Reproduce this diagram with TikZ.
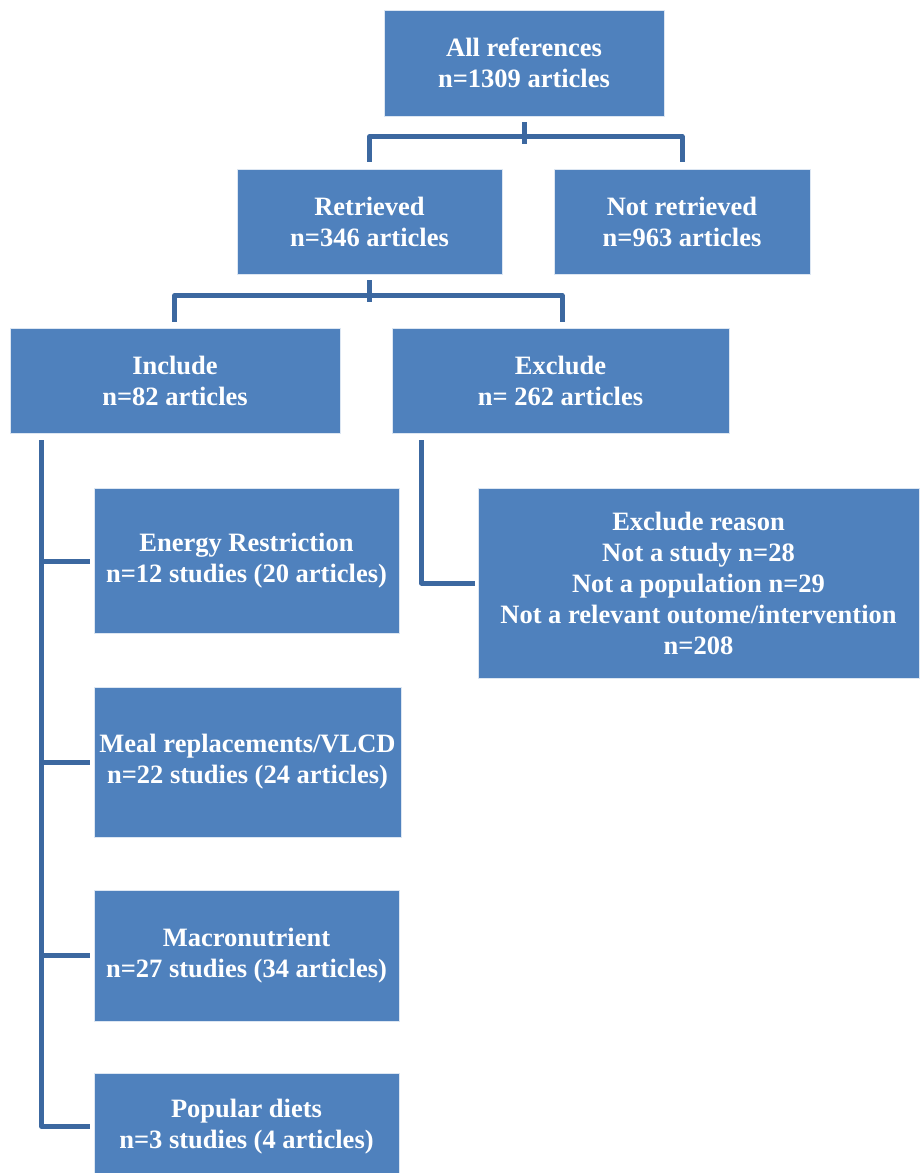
\documentclass[tikz,border=0pt]{standalone}
\usepackage{fontspec}
\setmainfont{Liberation Serif}
\usepackage{tikz}
\definecolor{boxblue}{RGB}{79,129,189}
\definecolor{lineblue}{RGB}{60,104,160}

\begin{document}
\begin{tikzpicture}[x=1pt,y=-1pt,
  box/.style={fill=boxblue,draw=white!80!boxblue,line width=0.8pt,text=white,align=center,inner sep=0pt,
    font=\bfseries\fontsize{26.5}{31}\selectfont},
  link/.style={draw=lineblue,line width=5pt,line join=round}]
\useasboundingbox (0,0) rectangle (919,1173);
\node[box,minimum width=280pt,minimum height=106pt] (allref) at (524,63) {All references\\n=1309 articles};
\node[box,minimum width=265pt,minimum height=105pt] (retr) at (369.5,221.5) {Retrieved\\n=346 articles};
\node[box,minimum width=256pt,minimum height=105pt] (notretr) at (682,221.5) {Not retrieved\\n=963 articles};
\node[box,minimum width=330pt,minimum height=105pt] (incl) at (175,380.5) {Include\\n=82 articles};
\node[box,minimum width=337pt,minimum height=105pt] (excl) at (560.5,380.5) {Exclude\\n= 262 articles};
\node[box,minimum width=305pt,minimum height=145pt] (energy) at (246.5,561) {Energy Restriction\\n=12 studies (20 articles)};
\node[box,minimum width=307pt,minimum height=150pt] (meal) at (247.5,762) {Meal replacements/VLCD\\n=22 studies (24 articles)};
\node[box,minimum width=305pt,minimum height=131pt] (macro) at (246.5,955.5) {Macronutrient\\n=27 studies (34 articles)};
\node[box,minimum width=305pt,minimum height=107pt] (popular) at (246.5,1126.5) {Popular diets\\n=3 studies (4 articles)};
\node[box,minimum width=441pt,minimum height=190pt] (reason) at (698.5,583) {Exclude reason\\Not a study n=28\\Not a population n=29\\Not a relevant outome/intervention\\n=208};

\draw[link] ([yshift=-6pt]allref.south) -- ++(0,22);
\draw[link] ([yshift=7pt]retr.north) -- ++(0,-25) -| ([yshift=7pt]notretr.north);
\draw[link] ([yshift=-6pt]retr.south) -- ++(0,22);
\draw[link] ([yshift=6pt,xshift=-0.5pt]incl.north) -- ++(0,-26) -| ([yshift=6pt,xshift=1.5pt]excl.north);

\coordinate (inctop) at ([xshift=32pt,yshift=-7pt]incl.south west);
\draw[link] (inctop) |- ([xshift=-4pt]popular.west);
\foreach \b in {energy,meal,macro}
  \draw[link] (inctop |- \b.west) -- ([xshift=-4pt]\b.west);
\draw[link] ([xshift=30pt,yshift=-7pt]excl.south west) |- ([xshift=-3pt]reason.west);
\end{tikzpicture}
\end{document}
